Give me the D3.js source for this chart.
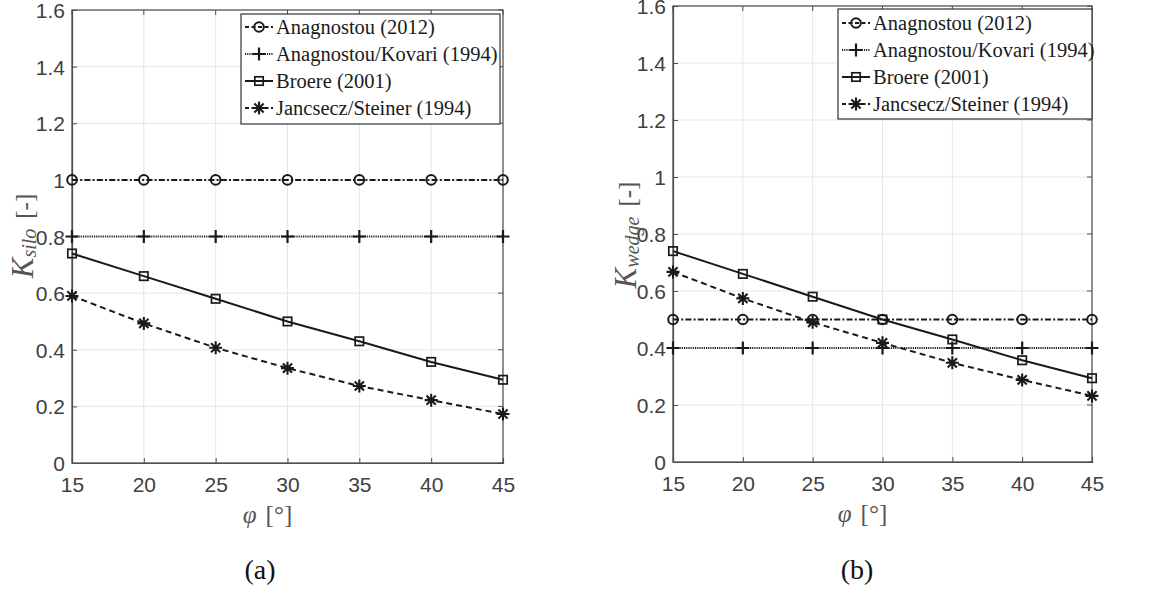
<!DOCTYPE html>
<html>
<head>
<meta charset="utf-8">
<script src="https://cdn.jsdelivr.net/npm/d3@7"></script>
<style>
  body { margin: 0; background: #fff; }
  .tick text { font-family: Arial, "Liberation Sans", sans-serif; }
</style>
</head>
<body>
<script>
// data
var phi = [15, 20, 25, 30, 35, 40, 45];
var series_names = ["Anagnostou (2012)", "Anagnostou/Kovari (1994)", "Broere (2001)", "Jancsecz/Steiner (1994)"];

var silo_anagnostou = [1, 1, 1, 1, 1, 1, 1];
var silo_kovari = [0.8, 0.8, 0.8, 0.8, 0.8, 0.8, 0.8];
var silo_broere = [0.74, 0.66, 0.58, 0.50, 0.43, 0.357, 0.294];
var silo_jancsecz = [0.59, 0.493, 0.407, 0.335, 0.272, 0.222, 0.173];

var wedge_anagnostou = [0.5, 0.5, 0.5, 0.5, 0.5, 0.5, 0.5];
var wedge_kovari = [0.4, 0.4, 0.4, 0.4, 0.4, 0.4, 0.4];
var wedge_broere = [0.74, 0.66, 0.58, 0.50, 0.43, 0.357, 0.294];
var wedge_jancsecz = [0.667, 0.574, 0.49, 0.418, 0.348, 0.288, 0.232];

var y_ticks = [0, 0.2, 0.4, 0.6, 0.8, 1, 1.2, 1.4, 1.6];
var x_ticks = [15, 20, 25, 30, 35, 40, 45];

// line style per series
var dashes = ["6,2.2,2,2.2", "1.1,1.1", null, "6,4"];
var leg_dashes = ["4,2.5", "1.1,1.1", null, "4,2.5"];
var markers = ["circle", "plus", "square", "star"];

var width = 1169, height = 596;
var ink = "#1a1a1a";
var axis_col = "#4d4d4d";
var serif = "'Liberation Serif', 'DejaVu Serif', serif";

var svg = d3.select("body").append("svg")
    .attr("width", width)
    .attr("height", height);

function draw_marker(g, type, x, y){
    if (type == "circle"){
        g.append("circle").attr("cx", x).attr("cy", y).attr("r", 4.8)
          .attr("fill", "none").attr("stroke", ink).attr("stroke-width", 2);
    } else if (type == "square"){
        g.append("rect").attr("x", x - 4.2).attr("y", y - 4.2).attr("width", 8.4).attr("height", 8.4)
          .attr("fill", "none").attr("stroke", ink).attr("stroke-width", 1.7);
    } else if (type == "plus"){
        g.append("path").attr("d", "M" + (x - 6.5) + "," + y + "H" + (x + 6.5) + "M" + x + "," + (y - 6.5) + "V" + (y + 6.5))
          .attr("stroke", ink).attr("stroke-width", 2.2);
    } else {
        var d = "M" + (x - 6.5) + "," + y + "H" + (x + 6.5) + "M" + x + "," + (y - 6.5) + "V" + (y + 6.5);
        var r = 4.6;
        d += "M" + (x - r) + "," + (y - r) + "L" + (x + r) + "," + (y + r);
        d += "M" + (x - r) + "," + (y + r) + "L" + (x + r) + "," + (y - r);
        g.append("path").attr("d", d).attr("stroke", ink).attr("stroke-width", 2.1);
    }
}

function draw_panel(opts){
    var x = d3.scaleLinear().domain([15, 45]).range([opts.left, opts.right]);
    var y = d3.scaleLinear().domain([0, 1.6]).range([opts.bottom, opts.top]);
    var g = svg.append("g");

    // grid
    g.append("g").selectAll("line").data(x_ticks).enter().append("line")
      .attr("x1", function(d){ return x(d); }).attr("x2", function(d){ return x(d); })
      .attr("y1", opts.top).attr("y2", opts.bottom)
      .attr("stroke", "#e6e6e6").attr("stroke-width", 1);
    g.append("g").selectAll("line").data(y_ticks).enter().append("line")
      .attr("y1", function(d){ return y(d); }).attr("y2", function(d){ return y(d); })
      .attr("x1", opts.left).attr("x2", opts.right)
      .attr("stroke", "#e6e6e6").attr("stroke-width", 1);

    // frame
    g.append("rect").attr("x", opts.left).attr("y", opts.top)
      .attr("width", opts.right - opts.left).attr("height", opts.bottom - opts.top)
      .attr("fill", "none").attr("stroke", axis_col).attr("stroke-width", 1.2);

    var xa = g.append("g").attr("transform", "translate(0," + opts.bottom + ")")
      .call(d3.axisBottom(x).tickValues(x_ticks).tickSize(-5).tickPadding(14).tickFormat(d3.format("d")));
    var ya = g.append("g").attr("transform", "translate(" + opts.left + ",0)")
      .call(d3.axisLeft(y).tickValues(y_ticks).tickSize(-5).tickPadding(7).tickFormat(function(d){ return String(d); }));
    [xa, ya].forEach(function(a){
        a.select(".domain").attr("stroke", axis_col).attr("stroke-width", 1.2);
        a.selectAll(".tick line").attr("stroke", axis_col);
        a.selectAll(".tick text").attr("fill", "#404040").style("font-size", "21px");
    });
    ya.selectAll(".tick text").attr("dy", "0.36em");
    // top/right ticks
    g.append("g").selectAll("line").data(x_ticks).enter().append("line")
      .attr("x1", function(d){ return x(d); }).attr("x2", function(d){ return x(d); })
      .attr("y1", opts.top).attr("y2", opts.top + 5).attr("stroke", axis_col);
    g.append("g").selectAll("line").data(y_ticks).enter().append("line")
      .attr("y1", function(d){ return y(d); }).attr("y2", function(d){ return y(d); })
      .attr("x1", opts.right).attr("x2", opts.right - 5).attr("stroke", axis_col);

    // series
    var line = d3.line().x(function(d, i){ return x(phi[i]); }).y(function(d){ return y(d); });
    opts.series.forEach(function(s, k){
        g.append("path").datum(s).attr("d", line)
          .attr("fill", "none").attr("stroke", ink).attr("stroke-width", 2)
          .attr("stroke-dasharray", dashes[k]);
        s.forEach(function(v, i){ draw_marker(g, markers[k], x(phi[i]), y(v)); });
    });

    // legend
    var lg = g.append("g");
    lg.append("rect").attr("x", opts.leg_x).attr("y", opts.leg_y)
      .attr("width", opts.leg_w).attr("height", 110)
      .attr("fill", "#fff").attr("stroke", "#333").attr("stroke-width", 1.2);
    series_names.forEach(function(name, k){
        var ly = opts.leg_y + opts.leg_off + k * 27;
        lg.append("line").attr("x1", opts.leg_x + 4).attr("x2", opts.leg_x + 32)
          .attr("y1", ly).attr("y2", ly)
          .attr("stroke", ink).attr("stroke-width", 2).attr("stroke-dasharray", leg_dashes[k]);
        draw_marker(lg, markers[k], opts.leg_x + 18, ly);
        lg.append("text").attr("x", opts.leg_x + 35).attr("y", ly + 7)
          .attr("font-family", serif)
          .attr("font-size", "20.5px").attr("fill", ink)
          .text(name);
    });

    // y label
    var yl = g.append("text")
      .attr("transform", "translate(" + opts.ylab_x + "," + opts.ylab_cy + ") rotate(-90)")
      .attr("text-anchor", "middle")
      .attr("font-family", serif)
      .attr("fill", "#555");
    yl.append("tspan").attr("font-style", "italic").attr("font-size", "31px").text("K");
    yl.append("tspan").attr("font-style", "italic").attr("font-size", "20px").attr("dy", 3).text(opts.sub);
    yl.append("tspan").attr("font-size", "25px").attr("dy", -3).attr("dx", 10).text("[-]");

    // x label
    var xl = g.append("text")
      .attr("x", (opts.left + opts.right) / 2 - 20).attr("y", opts.bottom + 60)
      .attr("text-anchor", "middle")
      .attr("font-family", serif)
      .attr("fill", "#555").attr("font-size", "25px");
    xl.append("tspan").attr("font-style", "italic").text("φ");
    xl.append("tspan").attr("dx", 9).text("[°]");

    // panel caption
    g.append("text").attr("x", opts.cap_x).attr("y", 579)
      .attr("text-anchor", "middle")
      .attr("font-family", serif)
      .attr("font-size", "28px").attr("fill", "#111")
      .text(opts.caption);
}

draw_panel({
    left: 72, right: 503, top: 10, bottom: 463,
    series: [silo_anagnostou, silo_kovari, silo_broere, silo_jancsecz],
    leg_x: 241, leg_y: 14, leg_w: 259, leg_off: 13,
    ylab_x: 33, ylab_cy: 236, sub: "silo", caption: "(a)", cap_x: 260
});

draw_panel({
    left: 673, right: 1092, top: 6, bottom: 462,
    series: [wedge_anagnostou, wedge_kovari, wedge_broere, wedge_jancsecz],
    leg_x: 838, leg_y: 9, leg_w: 254, leg_off: 14,
    ylab_x: 636, ylab_cy: 235, sub: "wedge", caption: "(b)", cap_x: 857
});
</script>
</body>
</html>
